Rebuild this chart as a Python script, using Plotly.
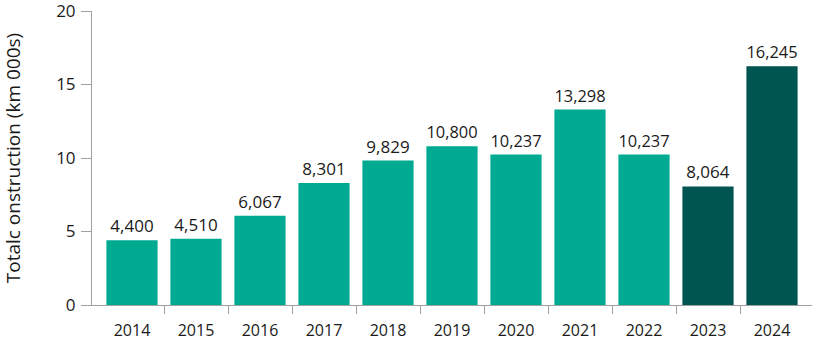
import plotly.graph_objects as go

# Annual construction totals (thousands of km)
years = ["2014", "2015", "2016", "2017", "2018", "2019",
         "2020", "2021", "2022", "2023", "2024"]
totals = [4.400, 4.510, 6.067, 8.301, 9.829, 10.800,
          10.237, 13.298, 10.237, 8.064, 16.245]
labels = ["4,400", "4,510", "6,067", "8,301", "9,829", "10,800",
          "10,237", "13,298", "10,237", "8,064", "16,245"]

TEAL = "#00AA91"
DARK = "#005550"
colors = [DARK if y in ("2023", "2024") else TEAL for y in years]

FONT = "'Open Sans', Lato, sans-serif"
AXIS_GREY = "#A0A0A0"
INK = "#1a1a1a"

xpos = list(range(len(years)))

fig = go.Figure(
    go.Bar(
        x=xpos,
        y=totals,
        width=0.8,
        marker=dict(color=colors, line=dict(width=0)),
        text=labels,
        textposition="outside",
        textfont=dict(family=FONT, size=17, color=INK),
        cliponaxis=False,
        hoverinfo="skip",
    )
)

fig.update_layout(
    width=818,
    height=341,
    margin=dict(l=92, r=6, t=11, b=36),
    paper_bgcolor="white",
    plot_bgcolor="white",
    showlegend=False,
    font=dict(family=FONT, color=INK),
)

fig.update_xaxes(
    type="linear",
    automargin=False,
    range=[-0.625, len(years) - 0.375],
    tickmode="array",
    tickvals=xpos,
    ticktext=years,
    ticks="",
    ticklabelstandoff=11,
    tickfont=dict(family=FONT, size=16, color=INK),
    minor=dict(
        tickmode="array",
        tickvals=[i + 0.5 for i in xpos[:-1]],
        ticks="outside",
        ticklen=8,
        tickcolor=AXIS_GREY,
        tickwidth=1,
        showgrid=False,
    ),
    showline=True,
    linecolor=AXIS_GREY,
    linewidth=1,
    showgrid=False,
    zeroline=False,
    fixedrange=True,
)

fig.update_yaxes(
    automargin=False,
    range=[0, 20.001],
    tickmode="array",
    tickvals=[0, 5, 10, 15, 20],
    ticktext=["0", "5", "10", "15", "20"],
    ticklabeloverflow="allow",
    ticks="outside",
    ticklen=10,
    tickcolor=AXIS_GREY,
    tickwidth=1,
    ticklabelstandoff=2,
    tickfont=dict(family=FONT, size=17, color=INK),
    showline=True,
    linecolor=AXIS_GREY,
    linewidth=1,
    showgrid=False,
    zeroline=False,
    title=dict(text="Totalc onstruction (km 000s)",
               font=dict(family=FONT, size=19, color=INK),
               standoff=32),
    fixedrange=True,
)

# short downward extension of the value axis below the baseline
fig.add_shape(
    type="line",
    xref="paper", yref="y",
    x0=0, x1=0,
    ysizemode="pixel", yanchor=0,
    y0=0, y1=-8,
    line=dict(color=AXIS_GREY, width=1),
)

fig.write_html("out.html")
